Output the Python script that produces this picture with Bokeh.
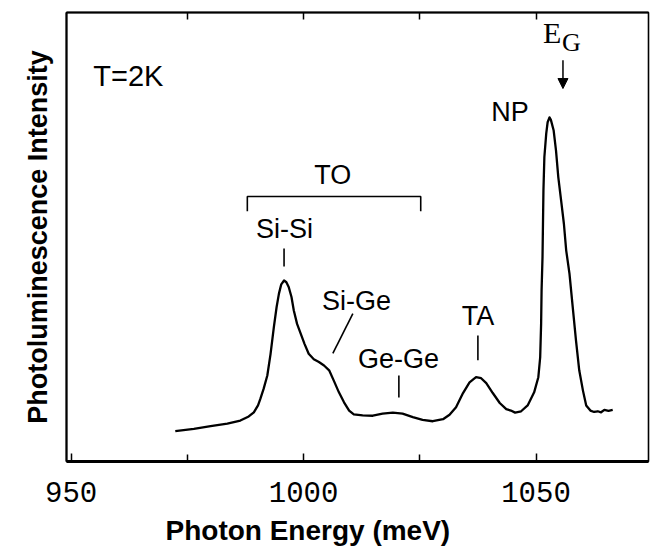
from bokeh.plotting import figure
from bokeh.models import Range1d, LinearAxis, FixedTicker, Label, Arrow, NormalHead, Title
from bokeh.embed import file_html
from bokeh.resources import INLINE

# Photoluminescence spectrum of a Si-Ge alloy at 2 K (intensity normalised to the NP peak)
energy_mev = [972.4, 976.4, 980.0, 983.6, 986.4, 988.2, 989.3, 990.2, 990.7, 991.4,
              992.2, 992.9, 993.6, 994.2, 994.7, 995.2, 995.8, 996.3, 996.8, 997.4,
              997.9, 998.6, 999.4, 1000.2, 1001.1, 1002.2, 1003.3, 1004.4, 1005.5, 1006.5,
              1007.6, 1008.7, 1009.8, 1010.8, 1012.7, 1014.9, 1017.0, 1019.2, 1021.3, 1023.5,
              1025.6, 1027.8, 1030.0, 1031.4, 1032.8, 1034.3, 1035.7, 1037.1, 1038.2, 1039.3,
              1040.7, 1042.2, 1043.6, 1044.6, 1045.5, 1046.8, 1048.2, 1049.6, 1050.5, 1050.9,
              1051.1, 1051.2, 1051.4, 1051.5, 1051.6, 1051.8, 1052.2, 1052.5, 1052.9, 1053.2,
              1053.8, 1054.3, 1054.8, 1055.4, 1056.0, 1056.5, 1057.2, 1057.9, 1058.6, 1059.3,
              1060.1, 1060.8, 1061.7, 1062.5, 1063.3, 1064.0, 1064.7, 1065.6, 1066.5]
intensity = [0.088, 0.095, 0.103, 0.110, 0.119, 0.131, 0.143, 0.163, 0.182, 0.211,
             0.250, 0.313, 0.390, 0.449, 0.488, 0.515, 0.526, 0.521, 0.507, 0.478,
             0.439, 0.400, 0.371, 0.342, 0.313, 0.297, 0.289, 0.279, 0.265, 0.235,
             0.201, 0.172, 0.148, 0.137, 0.134, 0.133, 0.139, 0.142, 0.139, 0.129,
             0.121, 0.117, 0.123, 0.136, 0.158, 0.199, 0.230, 0.245, 0.242, 0.228,
             0.199, 0.170, 0.152, 0.148, 0.142, 0.146, 0.163, 0.201, 0.245, 0.303,
             0.400, 0.497, 0.594, 0.691, 0.788, 0.885, 0.953, 0.986, 1.000, 0.993,
             0.962, 0.904, 0.826, 0.759, 0.691, 0.613, 0.546, 0.449, 0.352, 0.265,
             0.206, 0.163, 0.148, 0.144, 0.146, 0.143, 0.150, 0.147, 0.150]

x_major_ticks = [950, 1000, 1050]
x_minor_ticks = [975, 1025]
top_ticks = [975, 1000, 1025, 1050]

# peak annotations: (text, x, y) and the short marker lines under them
peak_labels = [("Si-Si", 995.9, 0.676), ("Si-Ge", 1011.4, 0.467),
               ("Ge-Ge", 1020.4, 0.297), ("TA", 1037.5, 0.422), ("NP", 1044.4, 1.015)]
marker_x0 = [995.8, 1010.6, 1020.5, 1037.5]
marker_y0 = [0.619, 0.430, 0.250, 0.366]
marker_x1 = [995.8, 1006.3, 1020.5, 1037.5]
marker_y1 = [0.567, 0.314, 0.186, 0.294]
to_bracket_x = [987.9, 987.9, 1025.2, 1025.2]
to_bracket_y = [0.727, 0.770, 0.770, 0.727]

SANS = "Liberation Sans"
SERIF = "Liberation Serif"

p = figure(width=652, height=556,
           x_range=Range1d(949.0, 1074.2), y_range=Range1d(0, 1.305),
           output_backend="svg", toolbar_location=None,
           min_border_left=66, min_border_right=4, min_border_top=12, min_border_bottom=95)

p.xgrid.visible = False
p.ygrid.visible = False
p.background_fill_color = "white"
p.border_fill_color = "white"
p.outline_line_color = "black"
p.outline_line_width = 1.6

# bottom axis: labelled major ticks, unlabelled minor ticks, all pointing inward
xa = p.xaxis[0]
xa.ticker = FixedTicker(ticks=x_major_ticks, minor_ticks=x_minor_ticks)
xa.major_tick_in = 8
xa.major_tick_out = 0
xa.minor_tick_in = 7
xa.minor_tick_out = 0
xa.major_tick_line_width = 1.5
xa.minor_tick_line_width = 1.5
xa.minor_tick_line_color = "black"
xa.axis_line_width = 2.8
xa.major_label_standoff = 20
xa.major_label_text_font = "Liberation Mono"
xa.major_label_text_font_size = "29px"
xa.major_label_text_color = "black"

# x-axis title, set slightly left of the frame centre
p.add_layout(Title(text="Photon Energy (meV)", align="left", offset=99, standoff=16,
                   text_font=SANS, text_font_style="bold", text_font_size="28px",
                   text_color="black"), "below")

# left axis: title only
ya = p.yaxis[0]
ya.ticker = FixedTicker(ticks=[])
ya.minor_tick_line_color = None
ya.major_tick_line_color = None
ya.axis_line_width = 2.0
ya.axis_label = "Photoluminescence Intensity"
ya.axis_label_text_font = SANS
ya.axis_label_text_font_style = "bold"
ya.axis_label_text_font_size = "27px"
ya.axis_label_text_color = "black"
ya.axis_label_standoff = 14

# top axis with inward ticks, no labels
top = LinearAxis(ticker=FixedTicker(ticks=[], minor_ticks=top_ticks),
                 minor_tick_in=7, minor_tick_out=0, minor_tick_line_width=1.5,
                 major_tick_line_color=None, axis_line_width=2.0)
p.add_layout(top, "above")

# spectrum
p.line(energy_mev, intensity, line_color="black", line_width=2.3, line_join="round")

# TO bracket and marker lines
p.line(to_bracket_x, to_bracket_y, line_color="black", line_width=1.6)
p.segment(marker_x0, marker_y0, marker_x1, marker_y1, line_color="black", line_width=1.6)

for txt, x, y in peak_labels:
    p.add_layout(Label(x=x, y=y, text=txt, text_align="center", text_baseline="middle",
                       text_font=SANS, text_font_size="27px", text_color="black"))

p.add_layout(Label(x=1006.3, y=0.834, text="TO", text_align="center", text_baseline="middle",
                   text_font=SANS, text_font_size="27px", text_color="black"))
p.add_layout(Label(x=962.3, y=1.119, text="T=2K", text_align="center", text_baseline="middle",
                   text_font=SANS, text_font_size="29px", text_color="black"))

# band gap marker
p.add_layout(Label(x=1051.5, y=1.247, text="E", text_align="left", text_baseline="alphabetic",
                   text_font=SERIF, text_font_size="30px", text_color="black"))
p.add_layout(Label(x=1055.6, y=1.218, text="G", text_align="left", text_baseline="alphabetic",
                   text_font=SERIF, text_font_size="26px", text_color="black"))
p.add_layout(Arrow(end=NormalHead(size=10, fill_color="black", line_color="black"),
                   x_start=1055.8, y_start=1.166, x_end=1055.8, y_end=1.084,
                   line_color="black", line_width=1.5))

open("out.html", "w").write(file_html(p, INLINE))
